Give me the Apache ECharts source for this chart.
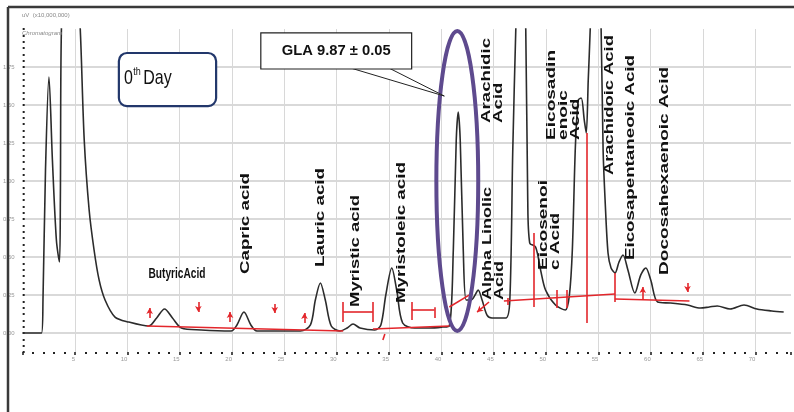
<!DOCTYPE html>
<html><head><meta charset="utf-8">
<script src="https://cdn.jsdelivr.net/npm/echarts@6/dist/echarts.min.js"></script>
<style>html,body{margin:0;padding:0;background:#fff}#c{width:794px;height:412px}</style>
</head><body><div id="c"></div>
<script>
// ---------------- DATA ----------------
const retentionTime = [0,1.80,1.94,2.18,2.51,2.84,3.22,3.51,3.60,3.70,
 4.60,5.50,5.88,6.35,6.82,7.30,7.87,8.82,10.14,12.04,
 12.80,13.55,14.31,15.17,17.06,19.91,20.47,21.14,21.80,22.37,
 26.54,27.49,27.96,28.44,28.91,29.48,30.33,31.00,31.56,32.23,
 33.65,34.22,34.69,35.26,35.73,36.30,37.44,38.86,40.09,40.76,
 41.14,41.42,41.61,41.80,42.09,42.37,42.84,43.22,43.51,43.89,
 44.36,44.83,46.16,46.54,46.82,47.11,47.60,48.06,48.25,48.44,
 49.00,49.48,49.95,50.90,51.85,52.23,52.51,52.80,53.08,53.36,
 53.65,53.84,54.03,54.22,54.75,55.26,55.45,55.64,55.92,56.21,
 56.59,56.97,57.35,57.82,58.48,59.05,59.53,60.00,60.66,61.90,
 63.51,64.74,65.59,66.35,67.58,68.91,70.14,71.56,72.70];
const signal = [0,0,0.217,1.072,1.684,1.138,0.612,0.467,0.875,2.0,
 3.2,2.0,1.27,0.809,0.546,0.349,0.217,0.105,0.072,0.046,
 0.099,0.158,0.099,0.033,0.020,0.013,0.053,0.138,0.053,0.013,
 0.013,0.053,0.217,0.329,0.217,0.046,0.013,0.033,0.059,0.033,
 0.020,0.053,0.250,0.428,0.283,0.066,0.033,0.033,0.039,0.046,
 0.546,1.270,1.454,1.270,0.546,0.217,0.217,0.250,0.283,0.217,
 0.118,0.099,0.099,0.217,1.204,2.0,3.2,2.0,0.875,0.592,
 0.566,0.414,0.283,0.184,0.151,0.250,0.546,1.224,1.533,1.546,
 1.401,1.316,1.664,2.0,3.2,2.0,1.204,0.875,0.526,0.428,
 0.395,0.467,0.513,0.414,0.263,0.382,0.428,0.349,0.204,0.197,
 0.184,0.164,0.171,0.178,0.158,0.184,0.158,0.145,0.138];

const yTickLabels = ['0.00','0.25','0.50','0.75','1.00','1.25','1.50','1.75'];
const xTickLabels = ['5','10','15','20','25','30','35','40','45','50','55','60','65','70'];

// integration baselines [rt1, y1, rt2, y2]
const baselineSegments = [
 [11.85,0.046,30.62,0.013],
 [33.46,0.026,40.76,0.046],
 [40.76,0.171,42.84,0.257],
 [45.97,0.211,56.59,0.257],
 [56.59,0.224,63.70,0.211],
 [34.41,-0.046,34.60,-0.007]
];
// vertical drop / cap lines [rt, yTop, yBottom]
const dropLines = [
 [46.35,0.230,0.184],[48.82,0.658,0.171],[51.00,0.283,0.164],[51.94,0.283,0.164],
 [53.93,1.316,0.066],[56.59,0.395,0.204],
 [30.62,0.204,0.072],[33.46,0.204,0.072],[37.16,0.204,0.086],[39.34,0.170,0.099]
];
// window bars [rt1, rt2, y]
const windowBars = [[30.62,33.46,0.138],[37.16,39.34,0.151]];
// event arrows [rtTail, yTail, rtHead, yHead]
const eventArrows = [
 [12.13,0.099,12.13,0.164],[16.78,0.204,16.78,0.138],[19.81,0.072,19.81,0.138],
 [24.08,0.191,24.08,0.132],[26.92,0.066,26.92,0.132],[59.24,0.217,59.24,0.303],
 [63.51,0.329,63.51,0.270],[44.55,0.204,43.41,0.138]
];

const peakNames = ['Capric acid','Lauric acid','Myristic acid','Myristoleic acid','Alpha Linolic\nAcid',
 'Arachidic\nAcid','Eicosenoi\nc Acid','Eicosadin\nenoic\nAcid','Arachidoic Acid',
 'Eicosapentaneoic Acid','Docosahexaenoic Acid'];
const calloutText = 'GLA 9.87 \u00b1 0.05';

// ---------------- LAYOUT (annotation placement) ----------------
const labelLayout = [ // [rt of centre, y of text start, span px]
 [21.33,0.388,101],[28.44,0.434,99],[31.85,0.171,112],[36.21,0.197,141],[45.02,0.217,113],
 [44.93,1.382,85],[50.38,0.414,90],[51.66,1.270,90],[56.11,1.039,140],[58.10,0.480,205],[61.33,0.382,208]
];

const RED = '#e3262b';
const mlData = [];
baselineSegments.forEach(s => mlData.push([{coord:[s[0],s[1]],symbol:'none'},{coord:[s[2],s[3]],symbol:'none'}]));
dropLines.forEach(s => mlData.push([{coord:[s[0],s[1]],symbol:'none'},{coord:[s[0],s[2]],symbol:'none'}]));
windowBars.forEach(s => mlData.push([{coord:[s[0],s[2]],symbol:'none'},{coord:[s[1],s[2]],symbol:'none'}]));
eventArrows.forEach(s => mlData.push([{coord:[s[0],s[1]],symbol:'none'},{coord:[s[2],s[3]],symbol:'arrow',symbolSize:[5,6]}]));

const option = {
  animation: false,
  backgroundColor: '#fff',
  grid: {left: 20, right: 0, top: 29, bottom: 60, containLabel: false},
  xAxis: {
    type: 'value', min: 0, max: 73.4, interval: 5,
    axisLine: {show: false, onZero: false},
    axisTick: {show: true, length: 3, lineStyle: {color: '#222', width: 1.6}},
    minorTick: {show: true, splitNumber: 5, length: 2, lineStyle: {color: '#222', width: 2}},
    axisLabel: {fontSize: 6, color: '#999', margin: 4, align: 'right',
      formatter: v => { const i = Math.round(v/5); return (Math.abs(v - i*5) < 1e-6 && i >= 1 && i <= xTickLabels.length) ? xTickLabels[i-1] : ''; }},
    splitLine: {show: true, showMinLine: false, showMaxLine: false, lineStyle: {color: '#d8d8d8', width: 1}}
  },
  yAxis: {
    type: 'value', min: -0.125, max: 2.0, interval: 0.125,
    axisLine: {show: false, onZero: false},
    axisTick: {show: true, inside: true, length: 2, lineStyle: {color: '#222', width: 2}},
    minorTick: {show: true, splitNumber: 3, length: 2, lineStyle: {color: '#222', width: 2}},
    axisLabel: {fontSize: 6, color: '#999', margin: 8,
      formatter: v => { const i = Math.round(v/0.25); return (Math.abs(v - i*0.25) < 1e-6 && i >= 0 && i < yTickLabels.length) ? yTickLabels[i] : ''; }},
    splitLine: {show: true, showMaxLine: false, lineStyle: {color: ['rgba(0,0,0,0)', '#cdcdcd'], width: 1.6}}
  },
  series: [
    {
      type: 'line', name: 'Chromatogram',
      data: retentionTime.map((t,i) => [t, signal[i]]),
      showSymbol: false, smooth: 0.3, clip: true, z: 3,
      lineStyle: {color: '#2b2b2b', width: 1.6}
    },
    {
      type: 'line', name: 'Integration', data: [], z: 4,
      markLine: {
        silent: true, animation: false, symbol: ['none','none'],
        label: {show: false},
        lineStyle: {color: RED, width: 1.6, type: 'solid'},
        emphasis: {disabled: true},
        data: mlData
      }
    }
  ]
};

const chart = echarts.init(document.getElementById('c'));
chart.setOption(option);

const P = (x, y) => chart.convertToPixel({gridIndex: 0}, [x, y]);
const ctx = document.createElement('canvas').getContext('2d');
function textW(t, weight, size, family) { ctx.font = weight + ' ' + size + 'px ' + family; return ctx.measureText(t).width; }

const FAM = '"Liberation Sans", Arial, sans-serif';
const NARROW = '"Liberation Sans Narrow", "Liberation Sans", Arial, sans-serif';
const g = [];

// frame
g.push({type:'line', z:100, shape:{x1:8,y1:7,x2:794,y2:7}, style:{stroke:'#3a3a3a', lineWidth:2.5}});
g.push({type:'line', z:100, shape:{x1:8,y1:7,x2:8,y2:412}, style:{stroke:'#3a3a3a', lineWidth:2.5}});
// axis titles
g.push({type:'text', z:100, x:22, y:15, style:{text:'uV  (x10,000,000)', fontSize:6, fill:'#888', fontFamily:FAM, verticalAlign:'middle'}});
g.push({type:'text', z:100, x:22, y:33, style:{text:'Chromatogram', fontSize:6, fontStyle:'italic', fill:'#888', fontFamily:FAM, verticalAlign:'middle'}});

// peak labels (rotated)
peakNames.forEach((t, i) => {
  const [rt, yb, span] = labelLayout[i];
  const p = P(rt, yb);
  const w = Math.max(...t.split('\n').map(s => textW(s, 'bold', 12, FAM)));
  g.push({type:'text', z:110, x:p[0], y:p[1], rotation: Math.PI/2, scaleX: span / w,
    style:{text:t, fontSize:12, fontWeight:'bold', fontFamily:FAM, fill:'#111', align:'left', verticalAlign:'middle', lineHeight:12}});
});
// Butyric label (horizontal)
{
  const p = P(14.74, 0.388);
  const w = textW('ButyricAcid', 'bold', 13, NARROW);
  g.push({type:'text', z:110, x:p[0], y:p[1], scaleX: 57 / w, scaleY: 1.15,
    style:{text:'ButyricAcid', fontSize:13, fontWeight:'bold', fontFamily:NARROW, fill:'#111', align:'center', verticalAlign:'middle'}});
}

// purple ellipse around GLA peak
{
  const c = P(41.52, 1.0), e = P(43.52, 1.987);
  g.push({type:'ellipse', z:120, shape:{cx:c[0], cy:c[1], rx:e[0]-c[0], ry:c[1]-e[1]},
    style:{fill:'none', stroke:'#5e4a8e', lineWidth:4}});
}

// GLA callout
{
  const b1 = P(22.75, 1.974), b2 = P(37.16, 1.737);
  const tip = P(40.28, 1.559), q1 = P(31.0, 1.737), q2 = P(34.79, 1.737);
  g.push({type:'polygon', z:125, shape:{points:[[q1[0], q1[1]-2],[tip[0],tip[1]],[q2[0], q2[1]-2]]},
    style:{fill:'#fff', stroke:'#222', lineWidth:1}});
  g.push({type:'rect', z:126, shape:{x:b1[0], y:b1[1], width:b2[0]-b1[0], height:b2[1]-b1[1]},
    style:{fill:'#fff', stroke:'#222', lineWidth:1.2}});
  const w = textW(calloutText, 'bold', 14, FAM);
  g.push({type:'text', z:127, x:(b1[0]+b2[0])/2, y:(b1[1]+b2[1])/2, scaleX: 109 / w,
    style:{text:calloutText, fontSize:14, fontWeight:'bold', fontFamily:FAM, fill:'#111', align:'center', verticalAlign:'middle'}});
}

// "0th Day" box
{
  const a = P(9.19, 1.842), b = P(18.48, 1.493);
  g.push({type:'rect', z:126, shape:{x:a[0], y:a[1], width:b[0]-a[0], height:b[1]-a[1], r:8},
    style:{fill:'#fff', stroke:'#22376b', lineWidth:2.2}});
  const t = P(9.67, 1.678);
  const w0 = textW('0', 'normal', 16, NARROW), wth = textW('th', 'normal', 9, NARROW);
  g.push({type:'group', z:127, x:t[0], y:t[1], scaleY:1.3, children:[
    {type:'text', z:127, x:0, y:0, style:{text:'0', fontSize:16, fontFamily:NARROW, fill:'#111', verticalAlign:'middle'}},
    {type:'text', z:127, x:w0+0.5, y:-5, style:{text:'th', fontSize:9, fontFamily:NARROW, fill:'#111', verticalAlign:'middle'}},
    {type:'text', z:127, x:w0+wth+3, y:0, style:{text:'Day', fontSize:16, fontFamily:NARROW, fill:'#111', verticalAlign:'middle'}}
  ]});
}

chart.setOption({graphic: {elements: g}});
</script>
</body></html>
